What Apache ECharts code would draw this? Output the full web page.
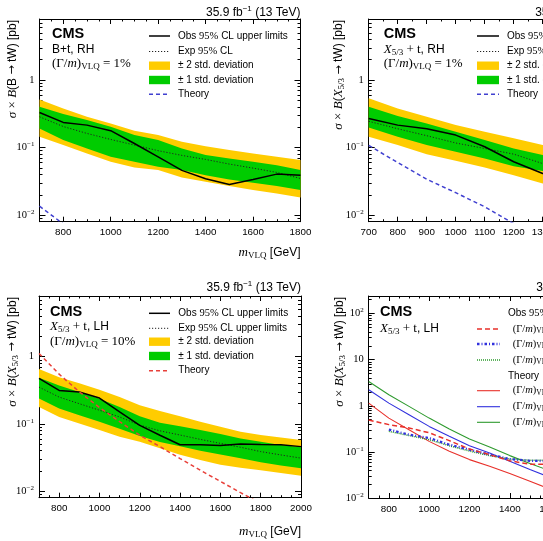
<!DOCTYPE html>
<html>
<head>
<meta charset="utf-8">
<script src="https://cdn.jsdelivr.net/npm/echarts@6.0.0/dist/echarts.min.js"></script>
<style>html,body{margin:0;padding:0;background:#fff;}#chart{width:543px;height:541px;}</style>
</head>
<body>
<div id="chart"></div>
<script>
// ---------------- data ----------------
const massP1 = [700,800,900,1000,1100,1200,1300,1400,1500,1600,1700,1800];
const obsP1 = [0.33,0.236,0.215,0.178,0.115,0.073,0.046,0.0345,0.0285,0.0338,0.0405,0.039];
const expP1 = [0.286,0.205,0.162,0.132,0.109,0.09,0.0766,0.0668,0.057,0.0497,0.0429,0.0349];
const g1UpP1 = [0.403,0.313,0.255,0.204,0.153,0.129,0.097,0.0774,0.069,0.0617,0.055,0.0464];
const g1DnP1 = [0.192,0.129,0.097,0.0731,0.0617,0.052,0.0464,0.039,0.0338,0.0301,0.0269,0.0235];
const y2UpP1 = [0.517,0.38,0.286,0.228,0.178,0.153,0.122,0.105,0.092,0.082,0.0731,0.0653];
const y2DnP1 = [0.145,0.109,0.082,0.0617,0.0508,0.0464,0.0361,0.0312,0.0269,0.0235,0.0209,0.0183];
const theoryP1 = [0.0136,0.0074,0.0042,0.0025,0.0015,0.00095,0.0006,0.0004,0.00027,0.00018,0.00012,0.00008];

const massP2 = [700,800,900,1000,1100,1200,1300,1400,1500,1600];
const obsP2 = [0.27,0.215,0.19,0.153,0.103,0.0617,0.0414,0.036,0.034,0.033];
const expP2 = [0.245,0.19,0.15,0.117,0.097,0.08,0.058,0.051,0.045,0.04];
const g1UpP2 = [0.403,0.293,0.228,0.172,0.129,0.097,0.0774,0.065,0.055,0.047];
const g1DnP2 = [0.199,0.145,0.109,0.0867,0.069,0.053,0.045,0.038,0.033,0.028];
const y2UpP2 = [0.535,0.38,0.286,0.215,0.172,0.137,0.109,0.092,0.078,0.067];
const y2DnP2 = [0.145,0.109,0.080,0.0638,0.0508,0.039,0.0294,0.025,0.021,0.018];
const theoryP2 = [0.108,0.06,0.034,0.0215,0.0133,0.0075,0.0045,0.0028,0.0018,0.0011];

const massP3 = [700,800,900,1000,1100,1200,1300,1400,1500,1600,1700,1800,1900,2000];
const obsP3 = [0.475,0.315,0.298,0.243,0.151,0.095,0.068,0.049,0.049,0.048,0.0505,0.0495,0.049,0.046];
const expP3 = [0.353,0.251,0.2,0.16,0.127,0.096,0.079,0.0684,0.059,0.0514,0.045,0.0388,0.0346,0.031];
const g1UpP3 = [0.485,0.373,0.298,0.2375,0.179,0.13,0.104,0.0928,0.081,0.0707,0.061,0.0545,0.0487,0.045];
const g1DnP3 = [0.24,0.17,0.135,0.108,0.085,0.066,0.054,0.0465,0.040,0.035,0.031,0.027,0.024,0.022];
const y2UpP3 = [0.658,0.496,0.404,0.323,0.251,0.189,0.156,0.130,0.1075,0.0907,0.0766,0.0684,0.0631,0.0577];
const y2DnP3 = [0.179,0.127,0.1016,0.081,0.0646,0.0545,0.0435,0.0347,0.0292,0.0247,0.0223,0.0204,0.0186,0.017];
const theoryP3 = [1.12,0.55,0.30,0.176,0.108,0.068,0.046,0.0305,0.0205,0.014,0.0095,0.0066,0.0046,0.0032];

const massP4 = [700,800,900,1000,1100,1200,1300,1400,1500,1600,1700,1800,1900,2000];
const massP4b = [800,900,1000,1100,1200,1300,1400,1500,1600,1700,1800,1900,2000];
const obs10P4 = [0.49,0.39,0.33,0.26,0.175,0.115,0.087,0.064,0.054,0.054,0.055,0.055,0.054,0.052];
const obs20P4 = [0.305,0.236,0.2,0.143,0.112,0.087,0.07,0.064,0.063,0.062,0.062,0.06,0.058];
const obs30P4 = [0.279,0.226,0.184,0.136,0.104,0.083,0.07,0.066,0.066,0.065,0.064,0.062,0.06];
const th10P4 = [1.14,0.54,0.303,0.169,0.103,0.068,0.0488,0.0339,0.0231,0.0155,0.0105,0.0072,0.005,0.0035];
const th20P4 = [2.22,1.14,0.64,0.357,0.217,0.136,0.0948,0.0626,0.0413,0.028,0.019,0.013,0.009,0.0062];
const th30P4 = [3.36,1.73,0.97,0.54,0.313,0.19,0.128,0.083,0.0557,0.039,0.027,0.019,0.013,0.009];

// tick labels
const xTickP1 = [800,1000,1200,1400,1600,1800];
const xTickP2 = [700,800,900,1000,1100,1200,1300,1400,1500,1600];
const xTickP3 = [800,1000,1200,1400,1600,1800,2000];
const xTickP4 = [800,1000,1200,1400,1600,1800,2000];
const yTickTop = [0.01,0.1,1];
const yTickP4 = [0.01,0.1,1,10,100];

// ---------------- layout ----------------
const SANS = '"Liberation Sans", Arial, Helvetica, sans-serif';
const SERIF = '"Liberation Serif", "Times New Roman", serif';
const ARROWF = '"DejaVu Sans", sans-serif';
const YEL = '#ffcc00', GRN = '#00cc00';

const P = [
  {left:39.5, top:19, width:261, height:202.7, xr:[700,1800], yr:[0.008,8], xt:xTickP1, yt:yTickTop},
  {left:368.7, top:19, width:261, height:202.7, xr:[700,1600], yr:[0.008,8], xt:xTickP2, yt:yTickTop},
  {left:39, top:296, width:262, height:201.7, xr:[700,2000], yr:[0.008,8], xt:xTickP3, yt:yTickTop},
  {left:368.7, top:296, width:262, height:202, xr:[700,2000], yr:[0.01,240], xt:xTickP4, yt:yTickP4}
];

const grids = [], xAxes = [], yAxes = [];
function yLabel(v) {
  const lg = Math.log10(v), e = Math.round(lg);
  if (Math.abs(lg - e) > 1e-6) return '';
  if (e === 0) return '{n|1}';
  if (e === 1) return '{n|10}';
  return '{n|10}{sup|' + (e < 0 ? '\u2212' : '') + Math.abs(e) + '}';
}
P.forEach((c, p) => {
  grids.push({left:c.left, top:c.top, width:c.width, height:c.height, containLabel:false, outerBoundsMode:'none', show:false});
  const xMinor = [];
  for (let v = c.xr[0]; v <= c.xr[1]; v += 50) if (!c.xt.includes(v)) xMinor.push(v);
  const yMinor = [];
  for (let k = -3; k <= 2; k++) for (let m = 2; m <= 9; m++) {
    const v = +(m * Math.pow(10, k)).toPrecision(3);
    if (v > c.yr[0] && v < c.yr[1]) yMinor.push(v);
  }
  const line = {show:true, onZero:false, lineStyle:{color:'#000', width:1}};
  const noLine = {show:false, onZero:false};
  const base = {gridIndex:p, splitLine:{show:false}, minorTick:{show:false}, axisPointer:{show:false}};
  const xb = Object.assign({}, base, {type:'value', min:c.xr[0], max:c.xr[1]});
  const yb = Object.assign({}, base, {type:'log', logBase:10, min:c.yr[0], max:c.yr[1]});
  const tk = (vals, len) => ({show:true, inside:true, length:len, customValues:vals, lineStyle:{color:'#000', width:1}});
  xAxes.push(Object.assign({}, xb, {position:'bottom', axisLine:line, axisTick:tk(c.xt,5),
    axisLabel:{show:true, customValues:c.xt, margin:6, color:'#000', fontFamily:SANS, fontSize:9.8, formatter:v=>String(v)}}));
  xAxes.push(Object.assign({}, xb, {position:'bottom', axisLine:noLine, axisTick:tk(xMinor,2.5), axisLabel:{show:false}}));
  xAxes.push(Object.assign({}, xb, {position:'top', axisLine:line, axisTick:tk(c.xt,5), axisLabel:{show:false}}));
  xAxes.push(Object.assign({}, xb, {position:'top', axisLine:noLine, axisTick:tk(xMinor,2.5), axisLabel:{show:false}}));
  yAxes.push(Object.assign({}, yb, {position:'left', axisLine:line, axisTick:tk(c.yt,6),
    axisLabel:{show:true, customValues:c.yt, margin:5, color:'#000', formatter:yLabel,
      rich:{n:{fontFamily:SERIF, fontSize:10.5, lineHeight:13, color:'#000'},
            sup:{fontFamily:SERIF, fontSize:7, lineHeight:7, verticalAlign:'top', color:'#000'}}}}));
  yAxes.push(Object.assign({}, yb, {position:'left', axisLine:noLine, axisTick:tk(yMinor,3), axisLabel:{show:false}}));
  yAxes.push(Object.assign({}, yb, {position:'right', axisLine:line, axisTick:tk(c.yt,6), axisLabel:{show:false}}));
  yAxes.push(Object.assign({}, yb, {position:'right', axisLine:noLine, axisTick:tk(yMinor,3), axisLabel:{show:false}}));
});

// ---------------- series ----------------
const series = [];
function band(p, xs, lo, hi, color) {
  series.push({type:'custom', xAxisIndex:4*p, yAxisIndex:4*p, clip:true, silent:true, z:1,
    data:[[xs[0], lo[0]]],
    renderItem(params, api) {
      const pts = [];
      for (let i = 0; i < xs.length; i++) pts.push(api.coord([xs[i], hi[i]]));
      for (let i = xs.length - 1; i >= 0; i--) pts.push(api.coord([xs[i], lo[i]]));
      return {type:'polygon', shape:{points:pts}, style:{fill:color, stroke:null}};
    }});
}
function curve(p, xs, ys, ls, z) {
  series.push({type:'line', xAxisIndex:4*p, yAxisIndex:4*p, data:xs.map((x,i)=>[x, ys[i]]),
    symbol:'none', showSymbol:false, clip:true, silent:true, z:z||3, lineStyle:ls, smooth:false});
}
const OBS = {color:'#000', width:1.5, type:'solid'};
const EXP = {color:'#222', width:1, type:[1.2,1.8]};
const BLUE_TH = {color:'#4040d0', width:1.5, type:[4,3]};
const RED_TH = {color:'#e8403a', width:1.5, type:[4,3]};

band(0, massP1, y2DnP1, y2UpP1, YEL); band(0, massP1, g1DnP1, g1UpP1, GRN);
curve(0, massP1, expP1, EXP); curve(0, massP1, obsP1, OBS); curve(0, massP1, theoryP1, BLUE_TH);

band(1, massP2, y2DnP2, y2UpP2, YEL); band(1, massP2, g1DnP2, g1UpP2, GRN);
curve(1, massP2, expP2, EXP); curve(1, massP2, obsP2, OBS); curve(1, massP2, theoryP2, BLUE_TH);

band(2, massP3, y2DnP3, y2UpP3, YEL); band(2, massP3, g1DnP3, g1UpP3, GRN);
curve(2, massP3, expP3, EXP); curve(2, massP3, obsP3, OBS); curve(2, massP3, theoryP3, RED_TH);

const C4R = '#e8302a', C4B = '#3030dd', C4G = '#2e9a2e';
curve(3, massP4, th10P4, {color:C4R, width:1.1, type:'solid'});
curve(3, massP4, th20P4, {color:C4B, width:1.1, type:'solid'});
curve(3, massP4, th30P4, {color:C4G, width:1.1, type:'solid'});
curve(3, massP4b, obs30P4, {color:C4G, width:1.5, type:[1,1]}, 4);
curve(3, massP4b, obs20P4, {color:C4B, width:2.3, type:[2.5,2,1,2]}, 4);
curve(3, massP4, obs10P4, {color:C4R, width:1.5, type:[5,3]}, 4);

// ---------------- text & legends ----------------
const RICH = {
  s:{fontFamily:SANS, fontSize:12, lineHeight:15, fill:'#000'},
  ar:{fontFamily:ARROWF, fontSize:11, lineHeight:15},
  l:{fontFamily:SANS, fontSize:10, lineHeight:13},
  lr:{fontFamily:SERIF, fontSize:10.5, lineHeight:13},
  li:{fontFamily:SERIF, fontSize:10.5, fontStyle:'italic', lineHeight:13},
  lsub:{fontFamily:SERIF, fontSize:7.5, lineHeight:7, verticalAlign:'bottom'},
  r:{fontFamily:SERIF, fontSize:13, lineHeight:15},
  i:{fontFamily:SERIF, fontSize:13, fontStyle:'italic', lineHeight:15},
  sub:{fontFamily:SERIF, fontSize:9, lineHeight:9, verticalAlign:'bottom'},
  sup:{fontFamily:SANS, fontSize:8, lineHeight:8, verticalAlign:'top'},
  cms:{fontFamily:SANS, fontSize:14.5, fontWeight:'bold', lineHeight:16}
};
const G = [];
function txt(x, y, text, align, rot) {
  G.push({type:'text', x:x, y:y, rotation:rot||0, z:100, silent:true,
    style:{text:text, rich:RICH, fill:'#000', font:'12px ' + SANS, align:align||'left', verticalAlign:'middle'}});
}
function lline(x1, x2, y, ls) {
  G.push({type:'line', z:100, silent:true, shape:{x1:x1, y1:y, x2:x2, y2:y},
    style:{stroke:ls.color, lineWidth:ls.width, lineDash:Array.isArray(ls.type)?ls.type:null}});
}
function lrect(x1, x2, y, color) {
  G.push({type:'rect', z:100, silent:true, shape:{x:x1, y:y-4.2, width:x2-x1, height:8.4}, style:{fill:color}});
}
const LUMI = '{s|35.9 fb}{sup|\u22121}{s| (13 TeV)}';
const YT_B = '{i|\u03c3} {r|\u00d7} {i|B}{s|(B }{ar|\u2192}{s| tW) [pb]}';
const YT_X = '{i|\u03c3} {r|\u00d7} {i|B}{s|(}{i|X}{sub|5/3}{s| }{ar|\u2192}{s| tW) [pb]}';
const XT = '{i|m}{sub|VLQ}{s| [GeV]}';
const OBS_T = '{l|Obs }{lr|95%}{l| CL upper limits}';
const EXP_T = '{l|Exp }{lr|95%}{l| CL}';
const EXP_T3 = '{l|Exp }{lr|95%}{l| CL upper limits}';
const S2_T = '{l|\u00b1 2 std. deviation}';
const S1_T = '{l|\u00b1 1 std. deviation}';
const TH_T = '{l|Theory}';
const W = pct => '{r|(\u0393/}{i|m}{r|)}{sub|VLQ}{r| = ' + pct + '%}';
const LW = pct => '{lr|(\u0393/}{li|m}{lr|)}{lsub|VLQ}{lr| = ' + pct + '%}';

function stdLegend(sx1, sx2, tx, rows, expText, thColor) {
  lline(sx1, sx2, rows[0], OBS); txt(tx, rows[0], OBS_T);
  lline(sx1, sx2, rows[1], EXP); txt(tx, rows[1], expText);
  lrect(sx1, sx2, rows[2], YEL); txt(tx, rows[2], S2_T);
  lrect(sx1, sx2, rows[3], GRN); txt(tx, rows[3], S1_T);
  lline(sx1, sx2, rows[4], thColor); txt(tx, rows[4], TH_T);
}
// panel 1
txt(300.5, 12.5, LUMI, 'right');
txt(52, 34, '{cms|CMS}'); txt(52, 50, '{s|B+t, RH}'); txt(52, 63.5, W(1));
stdLegend(149, 170, 178, [36, 51.5, 65.7, 80, 94.3], EXP_T, BLUE_TH);
txt(12.5, 20, YT_B, 'right', Math.PI/2);
txt(300.5, 253, XT, 'right');
// panel 2
txt(629.7, 12.5, LUMI, 'right');
txt(383.7, 34, '{cms|CMS}'); txt(383.7, 50, '{i|X}{sub|5/3}{r| + t}{s|, RH}'); txt(383.7, 63.5, W(1));
stdLegend(477, 499, 507, [36, 51.5, 65.7, 80, 94.3], EXP_T, BLUE_TH);
txt(339, 20, YT_X, 'right', Math.PI/2);
txt(629.7, 253, XT, 'right');
// panel 3
txt(301, 287.5, LUMI, 'right');
txt(50, 311.7, '{cms|CMS}'); txt(50, 326.7, '{i|X}{sub|5/3}{r| + t}{s|, LH}'); txt(50, 341.7, W(10));
stdLegend(149, 170, 178.3, [313.3, 328.3, 341.7, 356, 370.7], EXP_T3, RED_TH);
txt(12.5, 297, YT_X, 'right', Math.PI/2);
txt(301, 531.7, XT, 'right');
// panel 4
txt(630.7, 287.5, LUMI, 'right');
txt(380, 311.7, '{cms|CMS}'); txt(380, 328.3, '{i|X}{sub|5/3}{r| + t}{s|, LH}');
txt(508, 313.3, OBS_T);
lline(477, 500, 329, {color:C4R, width:1.5, type:[5,3]}); txt(512.7, 329, LW(10));
lline(477, 500, 344, {color:C4B, width:2.3, type:[2.5,2,1,2]}); txt(512.7, 344, LW(20));
lline(477, 500, 360, {color:C4G, width:1.5, type:[1,1]}); txt(512.7, 360, LW(30));
txt(508, 376, TH_T);
lline(477, 500, 390.7, {color:C4R, width:1.1}); txt(512.7, 390.7, LW(10));
lline(477, 500, 406.7, {color:C4B, width:1.1}); txt(512.7, 406.7, LW(20));
lline(477, 500, 422.3, {color:C4G, width:1.1}); txt(512.7, 422.3, LW(30));
txt(340, 297, YT_X, 'right', Math.PI/2);
txt(630.7, 531.7, XT, 'right');

const chart = echarts.init(document.getElementById('chart'), null, {renderer:'canvas'});
chart.setOption({
  animation:false,
  backgroundColor:'#fff',
  grid:grids, xAxis:xAxes, yAxis:yAxes, series:series,
  graphic:{elements:G}
});
</script>
</body>
</html>
